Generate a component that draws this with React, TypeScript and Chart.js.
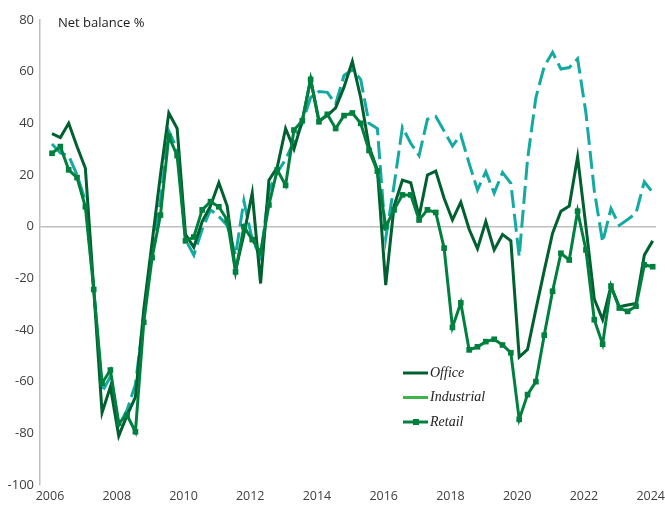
import React, { useEffect, useRef } from 'react';
import { Chart, registerables } from 'chart.js';

Chart.register(...registerables);

// Quarterly net balance %, 2006 Q1 .. 2024 Q1
const office = [
  36, 34.5, 40, 31,
  22.6, -24, -72, -62,
  -81, -73, -66, -32,
  -6, 20, 44, 38,
  -3, -8, 2, 8,
  17, 8, -17, -3,
  13, -22, 18, 23,
  38, 30, 41, 57,
  41, 43, 46, 54,
  64, 50, 31, 22,
  -22.6, 8, 18, 17,
  4, 20, 21.5, 11,
  2.6, 9.5, -1, -8.5,
  2, -9, -3, -5.5,
  -50.5, -47.5, -32, -17,
  -2.5, 6, 8, 27,
  0, -28, -36, -23,
  -31, -30.3, -29.7, -11,
  -5.5,
];

const industrial = [
  32, 28.5, 27.5, 20,
  10, -24, -64, -58,
  -77, -71, -61, -35,
  -8, 10, 37, 30,
  -5, -11, -1, 6.5,
  4, 0.5, -11, 10,
  -5, -12, 14, 21,
  26, 33, 40, 50,
  52.3, 52, 47.5, 58.5,
  60.7, 57, 40, 38,
  -4.5, 16, 38.5, 32.3,
  27.5, 41.6, 42.6, 37,
  31.2, 35.5, 24.5, 14.2,
  21.3, 13, 21, 16.8,
  -11.6, 26, 50, 62,
  67.5, 61, 61.6, 65,
  44, 14, -6, 7,
  0.5, 2.8, 5.2, 17.4,
  13.2,
];

const retail = [
  28.4, 31, 22, 19,
  7.7, -24.3, -60.6, -55.5,
  -76, -73, -79.4, -37,
  -12, 4.5, 35, 27.5,
  -5.5, -4, 6.5, 9.7,
  7.7, 2.6, -17.5, 0,
  -5, -10, 8.4, 22,
  16, 37.4, 41, 57,
  40.6, 43.5, 38, 43,
  44, 40, 29.5, 21.5,
  0, 6.5, 12.3, 12.3,
  2.6, 6.5, 5.5, -8.3,
  -39, -29.5, -47.7, -46.5,
  -44.5, -43.6, -45.8, -48.8,
  -74.6, -65, -60, -42,
  -25, -10.3, -12.9, 6,
  -9, -36, -45.5, -23,
  -31.5, -32.8, -30.8, -14.8,
  -15.5,
];

const seriesNames = ['Office', 'Industrial', 'Retail'];
const tickYears = [2006, 2008, 2010, 2012, 2014, 2016, 2018, 2020, 2022, 2024];
const yTickValues = [-100, -80, -60, -40, -20, 0, 20, 40, 60, 80];
const yTitle = 'Net balance %';

const quarters = office.map((_, i) => 2006 + i / 4);

const OFFICE_COLOR = '#00602F';
const INDUSTRIAL_COLOR = '#14AAA2';
const INDUSTRIAL_LEGEND_COLOR = '#3DB54A';
const RETAIL_COLOR = '#00803E';
const AXIS_GREY = '#BFBFBF';
const TICK_COLOR = '#404040';

const toPoints = (vals: number[]) => vals.map((v, i) => ({ x: quarters[i], y: v }));

const overlayPlugin = {
  id: 'overlay',
  afterDraw(chart: any) {
    const { ctx, chartArea } = chart;
    ctx.save();
    ctx.font = '13px "Open Sans"';
    ctx.fillStyle = '#1a1a1a';
    ctx.textBaseline = 'middle';
    ctx.textAlign = 'left';
    ctx.fillText(yTitle, chartArea.left + 18, chartArea.top + 3);

    const items = [
      { label: seriesNames[0], color: OFFICE_COLOR, marker: false },
      { label: seriesNames[1], color: INDUSTRIAL_LEGEND_COLOR, marker: false },
      { label: seriesNames[2], color: RETAIL_COLOR, marker: true },
    ];
    const lx = chartArea.left + 363;
    const ly0 = chartArea.top + 353;
    items.forEach((it, i) => {
      const y = ly0 + i * 24.5;
      ctx.strokeStyle = it.color;
      ctx.lineWidth = 3;
      ctx.beginPath();
      ctx.moveTo(lx, y);
      ctx.lineTo(lx + 25, y);
      ctx.stroke();
      if (it.marker) {
        ctx.fillStyle = it.color;
        ctx.fillRect(lx + 10, y - 3, 6, 6);
      }
      ctx.fillStyle = '#222';
      ctx.font = 'italic 14px "Liberation Serif"';
      ctx.textBaseline = 'middle';
      ctx.fillText(it.label, lx + 27, y);
    });
    ctx.restore();
  },
};

export default function App() {
  const ref = useRef<HTMLCanvasElement | null>(null);

  useEffect(() => {
    document.body.style.margin = '0';
    if (!ref.current) return;
    const tickFont = { family: '"Open Sans"', size: 13 };
    const xTickFont = { family: '"Open Sans"', size: 12.5 };
    const chart = new Chart(ref.current, {
      type: 'line',
      data: {
        datasets: [
          {
            label: seriesNames[2],
            data: toPoints(retail),
            borderColor: RETAIL_COLOR,
            backgroundColor: RETAIL_COLOR,
            borderWidth: 3,
            pointStyle: 'rect',
            pointRadius: 4,
            pointBorderWidth: 0,
            tension: 0,
            order: 0,
          },
          {
            label: seriesNames[0],
            data: toPoints(office),
            borderColor: OFFICE_COLOR,
            backgroundColor: OFFICE_COLOR,
            borderWidth: 3,
            pointRadius: 0,
            tension: 0,
            order: 1,
          },
          {
            label: seriesNames[1],
            data: toPoints(industrial),
            borderColor: INDUSTRIAL_COLOR,
            backgroundColor: INDUSTRIAL_COLOR,
            borderWidth: 3,
            borderDash: [18, 6],
            pointRadius: 0,
            tension: 0,
            order: 2,
          },
        ],
      },
      options: {
        animation: false,
        responsive: false,
        parsing: false as any,
        layout: { padding: { top: 20, right: 9, bottom: 0, left: 0 } },
        plugins: {
          legend: { display: false },
          tooltip: { enabled: false },
        },
        scales: {
          x: {
            type: 'linear',
            min: 2005.6404,
            max: 2024.0995,
            afterBuildTicks: (s: any) => {
              s.ticks = tickYears.map((v) => ({ value: v }));
            },
            afterFit: (s: any) => {
              s.height = 22;
              s.paddingLeft = 0;
              s.paddingRight = 0;
            },
            ticks: {
              autoSkip: false,
              maxRotation: 0,
              padding: 4,
              labelOffset: -2,
              color: TICK_COLOR,
              font: xTickFont,
              callback: (v: any) => String(v),
            },
            grid: { display: false, drawTicks: false },
            border: { display: false },
          },
          y: {
            min: -100,
            max: 80,
            afterBuildTicks: (s: any) => {
              s.ticks = yTickValues.map((v) => ({ value: v }));
            },
            afterFit: (s: any) => {
              s.width = 40;
              s.paddingTop = 0;
              s.paddingBottom = 0;
            },
            ticks: {
              padding: 6,
              color: TICK_COLOR,
              font: tickFont,
              callback: (v: any) => String(v),
            },
            grid: {
              drawTicks: false,
              lineWidth: 1.5,
              color: (c: any) => (c.tick && c.tick.value === 0 ? AXIS_GREY : 'rgba(0,0,0,0)'),
            },
            border: { color: AXIS_GREY, width: 1.5 },
          },
        },
      },
      plugins: [overlayPlugin],
    });
    return () => chart.destroy();
  }, []);

  return (
    <div style={{ width: 665, height: 507, background: '#fff' }}>
      <canvas ref={ref} width={665} height={507} style={{ display: 'block' }} />
    </div>
  );
}
